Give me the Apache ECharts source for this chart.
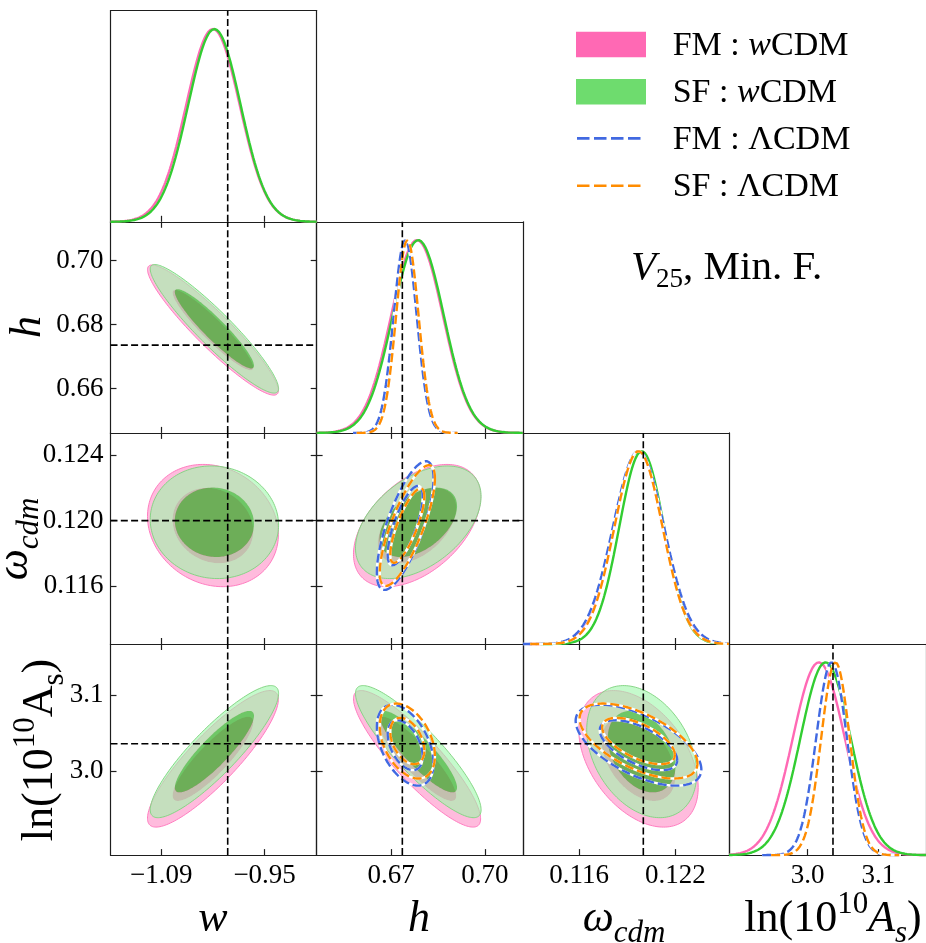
<!DOCTYPE html>
<html>
<head>
<meta charset="utf-8">
<title>V25 Min. F. triangle plot</title>
<script src="https://cdn.jsdelivr.net/npm/echarts@6.0.0/dist/echarts.min.js"></script>
<style>
html,body{margin:0;padding:0;background:#ffffff;}
#chart{width:926px;height:943px;}
</style>
</head>
<body>
<div id="chart"></div>
<script>
// ===================== data =====================
const paramNames = ['w', 'h', 'omega_cdm', 'lnAs'];
const fiducial = [-1.0, 0.6736, 0.1200, 3.036];
const axisMin = [-1.1587, 0.6462, 0.11249, 2.889];
const axisMax = [-0.8795, 0.7121, 0.12534, 3.1675];
const xTickValues = [[-1.09, -0.95], [0.67, 0.70], [0.116, 0.122], [3.0, 3.1]];
const xTickLabels = [['\u22121.09', '\u22120.95'], ['0.67', '0.70'], ['0.116', '0.122'], ['3.0', '3.1']];
const yTickValues = [[], [0.66, 0.68, 0.70], [0.116, 0.120, 0.124], [3.0, 3.1]];
const yTickLabels = [[], ['0.66', '0.68', '0.70'], ['0.116', '0.120', '0.124'], ['3.0', '3.1']];

const modelNames = ['FM : wCDM', 'SF : wCDM', 'FM : \u039bCDM', 'SF : \u039bCDM'];
// marginal means and standard deviations (null = parameter not varied)
const meanFMw  = [-1.020, 0.6783, 0.1197, 3.016];
const sigmaFMw = [0.0362, 0.0083, 0.00152, 0.0368];
const meanSFw  = [-1.018, 0.6787, 0.1199, 3.0255];
const sigmaSFw = [0.0355, 0.0082, 0.00140, 0.0356];
const meanFML  = [null, 0.6745, 0.1197, 3.034];
const sigmaFML = [null, 0.0037, 0.00160, 0.0218];
const meanSFL  = [null, 0.6752, 0.1197, 3.0395];
const sigmaSFL = [null, 0.0036, 0.00150, 0.0202];
// correlation coefficients, pairs: (w,h) (w,wc) (w,lnAs) (h,wc) (h,lnAs) (wc,lnAs)
const pairList = [[0, 1], [0, 2], [0, 3], [1, 2], [1, 3], [2, 3]];
const rhoFMw = [-0.93, -0.15, 0.87, 0.47, -0.88, -0.42];
const rhoSFw = [-0.93, -0.05, 0.88, 0.46, -0.88, -0.33];
const rhoFML = [null, null, null, 0.73, -0.45, -0.60];
const rhoSFL = [null, null, null, 0.78, -0.40, -0.60];
const contourLevels = [0.68, 0.95];
const curveExtentSigma = 4.5;   // 1D curves are drawn only over mean +/- this many sigma
// =====================================================================

const means = [meanFMw, meanSFw, meanFML, meanSFL];
const sigmas = [sigmaFMw, sigmaSFw, sigmaFML, sigmaSFL];
const rhos = [rhoFMw, rhoSFw, rhoFML, rhoSFL];

const FONT = '"Liberation Serif", "DejaVu Serif", serif';
const AX = '#1e1e1e';
const lineColors = ['#FF69B4', '#32CD32', '#4169E1', '#FF8C00'];
const dashedModel = [false, false, true, true];
const fillStyles = [
  {band: 'rgba(255,105,180,0.45)', inner: 'rgba(250,100,175,0.95)', edge: 'rgba(255,120,190,0.95)'},
  {band: 'rgba(158,247,170,0.60)', inner: 'rgba(45,204,48,0.69)', edge: 'rgba(130,212,130,0.95)'}
];
const colLeft = [110.5, 316.6, 522.8, 729.0];
const rowTop = [10.7, 221.8, 432.9, 644.0];
const cellW = 206.2, cellH = 211.1;
const PEAK_TOP = 1.095;
const radii = contourLevels.map(p => Math.sqrt(-2 * Math.log(1 - p)));

function labelFor(values, labels) {
  return function (v) {
    for (let i = 0; i < values.length; i++) {
      if (Math.abs(values[i] - v) < 1e-7) return labels[i];
    }
    return '';
  };
}

function ellipsePts(mx, my, sx, sy, rho, rad, n) {
  const out = [];
  const q = Math.sqrt(1 - rho * rho);
  for (let k = 0; k <= n; k++) {
    const t = 2 * Math.PI * k / n;
    const ct = Math.cos(t), st = Math.sin(t);
    out.push([mx + rad * sx * ct, my + rad * sy * (rho * ct + q * st)]);
  }
  return out;
}

function pairIndex(a, b) {
  for (let i = 0; i < pairList.length; i++) {
    if (pairList[i][0] === a && pairList[i][1] === b) return i;
  }
  return -1;
}

const grids = [], xAxes = [], yAxes = [], series = [];
const panels = [];
for (let r = 0; r < 4; r++) for (let c = 0; c <= r; c++) panels.push({r, c});

function xAx(g, c, pos, ticks, labels) {
  return {
    type: 'value', gridIndex: g, position: pos, min: axisMin[c], max: axisMax[c],
    axisLine: {show: true, onZero: false, lineStyle: {color: AX, width: 1.2}},
    axisTick: {show: ticks, inside: true, length: 6, customValues: xTickValues[c], lineStyle: {color: AX, width: 1.2}},
    axisLabel: {show: labels, customValues: xTickValues[c], formatter: labelFor(xTickValues[c], xTickLabels[c]),
      color: '#000', fontFamily: FONT, fontSize: 27, margin: 7},
    splitLine: {show: false}, splitArea: {show: false}
  };
}
function yAx(g, r, pos, ticks, labels) {
  return {
    type: 'value', gridIndex: g, position: pos, min: axisMin[r], max: axisMax[r],
    axisLine: {show: true, onZero: false, lineStyle: {color: AX, width: 1.2}},
    axisTick: {show: ticks, inside: true, length: 6, customValues: yTickValues[r], lineStyle: {color: AX, width: 1.2}},
    axisLabel: {show: labels, customValues: yTickValues[r], formatter: labelFor(yTickValues[r], yTickLabels[r]),
      color: '#000', fontFamily: FONT, fontSize: 27, margin: 7},
    splitLine: {show: false}, splitArea: {show: false}
  };
}
function yAx1D(g, pos) {
  return {
    type: 'value', gridIndex: g, position: pos, min: 0, max: PEAK_TOP,
    axisLine: {show: true, onZero: false, lineStyle: {color: AX, width: 1.2}},
    axisTick: {show: false}, axisLabel: {show: false}, splitLine: {show: false}
  };
}

panels.forEach((p, g) => {
  const {r, c} = p;
  grids.push({left: colLeft[c], top: rowTop[r], width: cellW, height: cellH, containLabel: false});
  const is1D = r === c;
  xAxes.push(xAx(g, c, 'bottom', true, r === 3));
  xAxes.push(xAx(g, c, 'top', !is1D, false));
  if (is1D) {
    yAxes.push(yAx1D(g, 'left'));
    yAxes.push(yAx1D(g, 'right'));
  } else {
    yAxes.push(yAx(g, r, 'left', true, c === 0));
    yAxes.push(yAx(g, r, 'right', true, false));
  }
  const xi = 2 * g, yi = 2 * g;

  if (is1D) {
    for (let m = 0; m < 4; m++) {
      const mu = means[m][c], s = sigmas[m][c];
      if (mu === null) continue;
      const lo = Math.max(axisMin[c], mu - curveExtentSigma * s);
      const hi = Math.min(axisMax[c], mu + curveExtentSigma * s);
      const pts = [];
      const N = 260;
      for (let k = 0; k <= N; k++) {
        const x = lo + (hi - lo) * k / N;
        pts.push([x, Math.exp(-0.5 * Math.pow((x - mu) / s, 2))]);
      }
      if (dashedModel[m]) {
        series.push({type: 'line', xAxisIndex: xi, yAxisIndex: yi, data: pts, symbol: 'none', showSymbol: false,
          clip: false, silent: true, z: 3 + m * 0.1, lineStyle: {color: '#ffffff', width: 2.4}});
      }
      series.push({type: 'line', name: modelNames[m], xAxisIndex: xi, yAxisIndex: yi, data: pts, symbol: 'none',
        showSymbol: false, clip: false, silent: true, z: 3 + m * 0.1 + 0.05,
        lineStyle: {color: lineColors[m], width: 2.4, type: dashedModel[m] ? [9, 3.8] : 'solid'}});
    }
  } else {
    const pi = pairIndex(c, r);
    for (let m = 0; m < 4; m++) {
      if (means[m][c] === null || rhos[m][pi] === null) continue;
      const mx = means[m][c], my = means[m][r], sx = sigmas[m][c], sy = sigmas[m][r], rho = rhos[m][pi];
      if (!dashedModel[m]) {
        const fs = fillStyles[m];
        series.push({
          type: 'custom', name: modelNames[m], xAxisIndex: xi, yAxisIndex: yi, data: [[mx, my]], silent: true, z: 2 + m * 0.1,
          renderItem: function (params, api) {
            const outer = ellipsePts(mx, my, sx, sy, rho, radii[1], 160).map(q => api.coord(q));
            const inner = ellipsePts(mx, my, sx, sy, rho, radii[0], 160).map(q => api.coord(q));
            const band = outer.concat(inner.slice().reverse());
            return {type: 'group', children: [
              {type: 'polygon', shape: {points: band}, style: {fill: fs.band}},
              {type: 'polygon', shape: {points: inner}, style: {fill: fs.inner}},
              {type: 'polyline', shape: {points: outer}, style: {stroke: fs.edge, lineWidth: 1, fill: null}}
            ]};
          }
        });
      } else {
        const col = lineColors[m];
        series.push({
          type: 'custom', name: modelNames[m], xAxisIndex: xi, yAxisIndex: yi, data: [[mx, my]], silent: true, z: 4 + m * 0.1,
          renderItem: function (params, api) {
            const children = [];
            radii.slice().reverse().forEach(rad => {
              const pts = ellipsePts(mx, my, sx, sy, rho, rad, 160).map(q => api.coord(q));
              children.push({type: 'polyline', shape: {points: pts}, style: {stroke: '#ffffff', lineWidth: 2.4, fill: null}});
              children.push({type: 'polyline', shape: {points: pts}, style: {stroke: col, lineWidth: 2.4, lineDash: [9, 3.8], fill: null}});
            });
            return {type: 'group', children: children};
          }
        });
      }
    }
  }

  // fiducial dashed lines
  const fx = fiducial[c], fy = is1D ? null : fiducial[r];
  const yLo = is1D ? 0 : axisMin[r], yHi = is1D ? PEAK_TOP : axisMax[r];
  series.push({
    type: 'custom', xAxisIndex: xi, yAxisIndex: yi, data: [[fx, is1D ? 0.5 : fy]], silent: true, z: 8,
    renderItem: function (params, api) {
      const ch = [];
      const a = api.coord([fx, yLo]), b = api.coord([fx, yHi]);
      ch.push({type: 'line', shape: {x1: a[0], y1: a[1], x2: b[0], y2: b[1]},
        style: {stroke: '#000', lineWidth: 1.6, lineDash: [7, 3.3]}});
      if (fy !== null) {
        const l = api.coord([axisMin[c], fy]), rr = api.coord([axisMax[c], fy]);
        ch.push({type: 'line', shape: {x1: l[0], y1: l[1], x2: rr[0], y2: rr[1]},
          style: {stroke: '#000', lineWidth: 1.6, lineDash: [7, 3.3]}});
      }
      return {type: 'group', children: ch};
    }
  });
});

// ---------- text: legend, annotation, axis titles ----------
const T = 44, TS = 31, TL = 60, TSH = 38;
function richSet() {
  return {
    i: {fontFamily: FONT, fontSize: T, fontStyle: 'italic', lineHeight: TL, fill: '#000'},
    r: {fontFamily: FONT, fontSize: T, lineHeight: TL, fill: '#000'},
    sub: {fontFamily: FONT, fontSize: TS, fontStyle: 'italic', lineHeight: TSH, verticalAlign: 'bottom', fill: '#000'},
    subr: {fontFamily: FONT, fontSize: TS, lineHeight: TSH, verticalAlign: 'bottom', fill: '#000'},
    sup: {fontFamily: FONT, fontSize: TS, lineHeight: TSH, verticalAlign: 'top', fill: '#000'}
  };
}
function title(text, x, y, rot) {
  return {type: 'text', x: x, y: y, rotation: rot || 0, z: 100, silent: true,
    style: {text: text, rich: richSet(), fontFamily: FONT, fontSize: T, fill: '#000', align: 'center', verticalAlign: 'middle'}};
}
const graphics = [
  title('{i|w}', 213, 919), title('{i|h}', 419, 919), title('{i|\u03c9}{sub|cdm}', 624, 919),
  title('{r|ln(10}{sup|10}{i|A}{sub|s}{r|)}', 833, 919),
  title('{i|h}', 28, 327, Math.PI / 2), title('{i|\u03c9}{sub|cdm}', 15, 539, Math.PI / 2),
  title('{r|ln(10}{sup|10}{r|A}{subr|s}{r|)}', 40, 750, Math.PI / 2)
];
// legend
const LF = 34;
const legRich = {i: {fontFamily: FONT, fontSize: LF, fontStyle: 'italic', fill: '#000'}};
const legendY = [46.3, 92.9, 140.1, 186.9];
const legendText = ['FM : {i|w}CDM', 'SF : {i|w}CDM', 'FM : \u039bCDM', 'SF : \u039bCDM'];
graphics.push({type: 'rect', z: 100, silent: true, shape: {x: 576, y: 31.7, width: 70, height: 25.6}, style: {fill: '#FF69B4'}});
graphics.push({type: 'rect', z: 100, silent: true, shape: {x: 576, y: 79, width: 70, height: 25.6}, style: {fill: '#6EDC6E'}});
graphics.push({type: 'line', z: 100, silent: true, shape: {x1: 577, y1: 138.4, x2: 644, y2: 138.4},
  style: {stroke: lineColors[2], lineWidth: 2.6, lineDash: [12.5, 4.5]}});
graphics.push({type: 'line', z: 100, silent: true, shape: {x1: 577, y1: 185.8, x2: 644, y2: 185.8},
  style: {stroke: lineColors[3], lineWidth: 2.6, lineDash: [12.5, 4.5]}});
legendText.forEach((t, k) => {
  graphics.push({type: 'text', x: 672.7, y: legendY[k], z: 100, silent: true,
    style: {text: t, rich: legRich, fontFamily: FONT, fontSize: LF, fill: '#000', align: 'left', verticalAlign: 'middle'}});
});
graphics.push({type: 'text', x: 631, y: 268, z: 100, silent: true,
  style: {text: '{v|V}{s|25}{t|, Min. F.}', fontFamily: FONT, fontSize: 41, fill: '#000', align: 'left', verticalAlign: 'middle',
    rich: {
      v: {fontFamily: FONT, fontSize: 41, fontStyle: 'italic', lineHeight: 50, fill: '#000'},
      s: {fontFamily: FONT, fontSize: 27, lineHeight: 32, verticalAlign: 'bottom', fill: '#000'},
      t: {fontFamily: FONT, fontSize: 41, lineHeight: 50, fill: '#000'}
    }}});

const chart = echarts.init(document.getElementById('chart'), null, {renderer: 'canvas'});
chart.setOption({
  animation: false,
  backgroundColor: '#ffffff',
  textStyle: {fontFamily: FONT},
  grid: grids,
  xAxis: xAxes,
  yAxis: yAxes,
  series: series,
  graphic: {elements: graphics}
});
</script>
</body>
</html>
